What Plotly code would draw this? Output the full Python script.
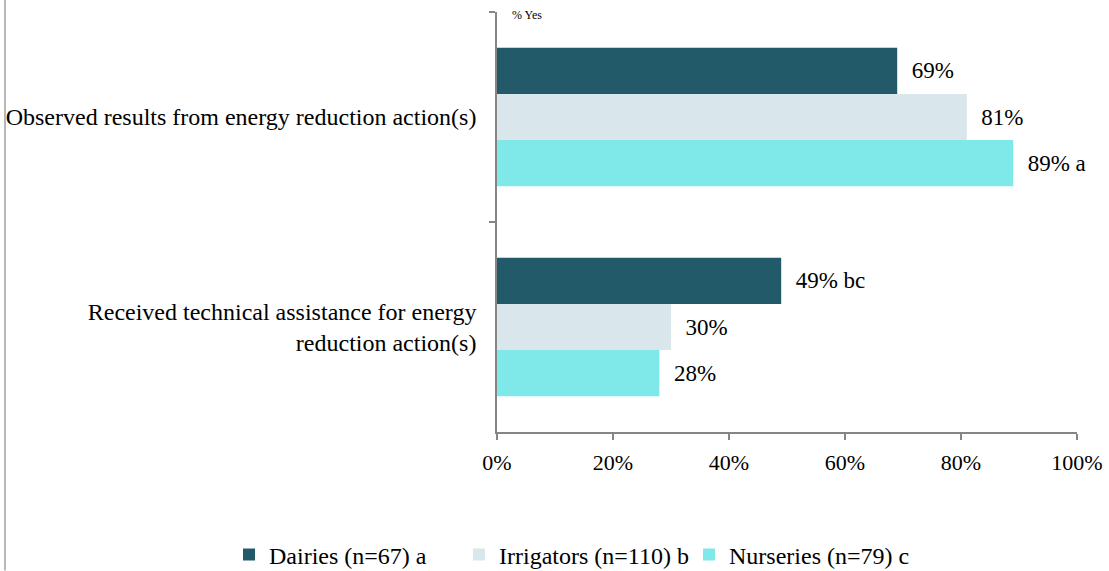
import plotly.graph_objects as go

categories = ["Observed results from energy reduction action(s)",
              "Received technical assistance for energy<br>reduction action(s)"]
series_names = ["Dairies (n=67) a", "Irrigators (n=110) b", "Nurseries (n=79) c"]
dairies = [69, 49]
irrigators = [81, 30]
nurseries = [89, 28]
dairies_labels = ["69%", "49% bc"]
irrigators_labels = ["81%", "30%"]
nurseries_labels = ["89% a", "28%"]
colors = ["#235A6A", "#D9E6EC", "#7FE9EA"]
x_ticks = [0, 20, 40, 60, 80, 100]
x_tick_labels = ["0%", "20%", "40%", "60%", "80%", "100%"]

FONT = "Times New Roman"

fig = go.Figure()
for name, vals, labs, col in zip(series_names,
                                 [dairies, irrigators, nurseries],
                                 [dairies_labels, irrigators_labels, nurseries_labels],
                                 colors):
    fig.add_trace(go.Bar(
        y=categories, x=vals, name=name, orientation="h",
        marker=dict(color=col, line=dict(width=0)),
        text=["\u00a0\u00a0" + l for l in labs], textposition="outside",
        textfont=dict(family=FONT, size=23, color="#000000"),
        cliponaxis=False, hoverinfo="skip",
    ))

fig.update_layout(
    width=1109, height=571,
    margin=dict(l=497, r=32, t=12, b=139, autoexpand=False),
    barmode="group", bargap=0.34, bargroupgap=0,
    plot_bgcolor="white", paper_bgcolor="white",
    font=dict(family=FONT, size=22, color="#000000"),
    showlegend=True,
    legend=dict(orientation="h", x=(229 - 497) / 580, xanchor="left", xref="paper",
                y=(432 - 555) / 420, yanchor="middle", yref="paper",
                entrywidth=185, entrywidthmode="pixels",
                font=dict(family=FONT, size=24), traceorder="normal"),
    xaxis=dict(range=[0, 100], tickvals=x_ticks, ticktext=x_tick_labels,
               automargin=False,
               showgrid=False, zeroline=False, showline=True,
               linecolor="#868686", linewidth=1.5,
               ticks="outside", ticklen=6, tickcolor="#868686", tickwidth=1.5,
               ticklabelstandoff=4,
               tickfont=dict(family=FONT, size=22)),
    yaxis=dict(autorange="reversed", showgrid=False, zeroline=False,
               automargin=False,
               showline=True, linecolor="#868686", linewidth=1.5,
               ticks="outside", tickson="boundaries", ticklen=6,
               tickcolor="#868686", tickwidth=1.5,
               ticklabelstandoff=14,
               tickfont=dict(family=FONT, size=24)),
    annotations=[dict(text="% Yes", xref="paper", yref="paper", x=0.022, y=0.993,
                      xanchor="left", yanchor="middle", showarrow=False,
                      font=dict(family=FONT, size=12))],
    shapes=[dict(type="line", xref="paper", yref="paper",
                 x0=(5 - 497) / 580, x1=(5 - 497) / 580, y0=1.03, y1=-0.33,
                 line=dict(color="#A0A0A0", width=1.5))],
)

fig.write_html("out.html", config={"displayModeBar": False},
               post_script="document.body.style.margin='0';")
